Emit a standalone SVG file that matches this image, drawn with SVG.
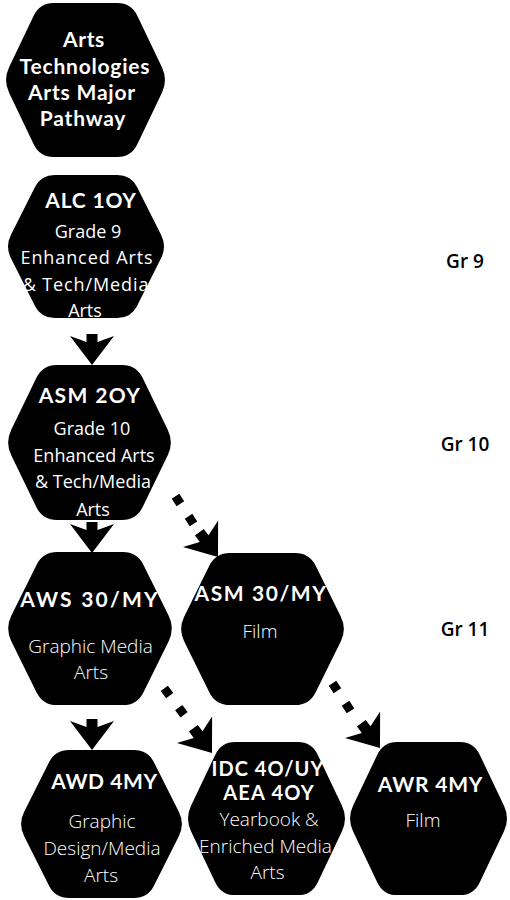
<svg xmlns="http://www.w3.org/2000/svg" xmlns:xlink="http://www.w3.org/1999/xlink" width="510" height="900" viewBox="0 0 510 900">
  <defs>
    <style>
      .hex { fill: #000; }
      .t { font-family: "Open Sans", "Liberation Sans", sans-serif; fill: #fff; text-anchor: middle; }
      .b { font-family: Lato, "Liberation Sans", sans-serif; font-size: 21px; font-weight: 700; }
      .r { font-size: 18px; font-weight: 400; }
      .l { font-size: 19px; font-weight: 300; }
      .gr { font-family: "Open Sans", "Liberation Sans", sans-serif; fill: #000; font-size: 19px; font-weight: 600; text-anchor: middle; }
      .dash { stroke: #000; stroke-width: 9; stroke-dasharray: 9 15; fill: none; }
      .head { fill: #000; }
    </style>
    <path id="hex" d="M51,0 L115,0 Q129,0 135.13,12.59 L159.87,63.41 Q166,76 159.87,88.59 L135.13,139.41 Q129,152 115,152 L51,152 Q37,152 30.87,139.41 L6.13,88.59 Q0,76 6.13,63.41 L30.87,12.59 Q37,0 51,0 Z"/>
    <polygon id="ah" points="-5.5,-31 5.5,-31 5.5,-23 22,-29 0,0 -22,-29 -5.5,-23"/>
  </defs>
  <rect x="0" y="0" width="510" height="900" fill="#fff"/>

  <g id="connectors">
    <use href="#ah" class="head" transform="translate(92 365)"/>
    <use href="#ah" class="head" transform="translate(92 553)"/>
    <use href="#ah" class="head" transform="translate(92 750)"/>
    <line class="dash" x1="175.5" y1="496.2" x2="193.5" y2="523.9"/>
    <use href="#ah" class="head" transform="translate(218 557) rotate(-37)"/>
    <line class="dash" x1="164.3" y1="688.4" x2="184.1" y2="714.8"/>
    <use href="#ah" class="head" transform="translate(212 753) rotate(-37)"/>
    <line class="dash" x1="332.5" y1="683.2" x2="350.5" y2="710.9"/>
    <use href="#ah" class="head" transform="translate(380 748) rotate(-37)"/>
  </g>

  <g id="node-title">
    <use href="#hex" class="hex" transform="translate(3 3) scale(0.994 1.013)"/>
    <text class="t b" x="84" y="47" letter-spacing="0.6">Arts</text>
    <text class="t b" x="85" y="73.5" letter-spacing="0.8">Technologies</text>
    <text class="t b" x="82" y="100" letter-spacing="0.8">Arts Major</text>
    <text class="t b" x="83" y="126" letter-spacing="0.8">Pathway</text>
  </g>

  <g id="node-alc1oy">
    <use href="#hex" class="hex" transform="translate(5 175) scale(0.976 0.941)"/>
    <text class="t b" x="91" y="208" letter-spacing="0.8">ALC 1OY</text>
    <text class="t r" x="88" y="238">Grade 9</text>
    <text class="t r" x="87" y="264" letter-spacing="0.9">Enhanced Arts</text>
    <text class="t r" x="86" y="291" letter-spacing="0.9">&amp; Tech/Media</text>
    <text class="t r" x="85" y="317">Arts</text>
  </g>

  <g id="node-asm2oy">
    <use href="#hex" class="hex" transform="translate(5 365) scale(1.018 1.02)"/>
    <text class="t b" x="90" y="403" letter-spacing="1.4">ASM 2OY</text>
    <text class="t r" x="92" y="435">Grade 10</text>
    <text class="t r" x="94" y="462">Enhanced Arts</text>
    <text class="t r" x="93" y="488">&amp; Tech/Media</text>
    <text class="t r" x="93" y="516">Arts</text>
  </g>

  <g id="node-aws3omy">
    <use href="#hex" class="hex" transform="translate(5 552) scale(1.024 1.007)"/>
    <text class="t b" x="90" y="607" letter-spacing="2.2">AWS 30/MY</text>
    <text class="t l" x="90.5" y="653">Graphic Media</text>
    <text class="t l" x="91" y="679">Arts</text>
  </g>

  <g id="node-asm3omy">
    <use href="#hex" class="hex" transform="translate(178 553) scale(1.018 1.0)"/>
    <text class="t b" x="261" y="601" letter-spacing="1.6">ASM 30/MY</text>
    <text class="t l" x="260" y="638">Film</text>
  </g>

  <g id="node-awd4my">
    <use href="#hex" class="hex" transform="translate(18 750) scale(1.006 0.974)"/>
    <text class="t b" x="104.5" y="789" letter-spacing="0.6">AWD 4MY</text>
    <text class="t l" x="102" y="828">Graphic</text>
    <text class="t l" x="102" y="855">Design/Media</text>
    <text class="t l" x="101" y="882">Arts</text>
  </g>

  <g id="node-idc4ouy">
    <use href="#hex" class="hex" transform="translate(185 742) scale(0.982 1.007)"/>
    <text class="t b" x="268" y="775.5" letter-spacing="1" style="font-size:20px">IDC 4O/UY</text>
    <text class="t b" x="269" y="800" letter-spacing="1.2" style="font-size:20px">AEA 4OY</text>
    <text class="t l" x="269" y="826">Yearbook &amp;</text>
    <text class="t l" x="265.5" y="853">Enriched Media</text>
    <text class="t l" x="267.5" y="879">Arts</text>
  </g>

  <g id="node-awr4my">
    <use href="#hex" class="hex" transform="translate(347 742) scale(0.982 1.007)"/>
    <text class="t b" x="430.5" y="792" letter-spacing="0.8">AWR 4MY</text>
    <text class="t l" x="423" y="827">Film</text>
  </g>

  <g id="grade-labels">
    <text class="gr" x="465" y="268">Gr 9</text>
    <text class="gr" x="465" y="451">Gr 10</text>
    <text class="gr" x="465" y="636">Gr 11</text>
  </g>
</svg>
